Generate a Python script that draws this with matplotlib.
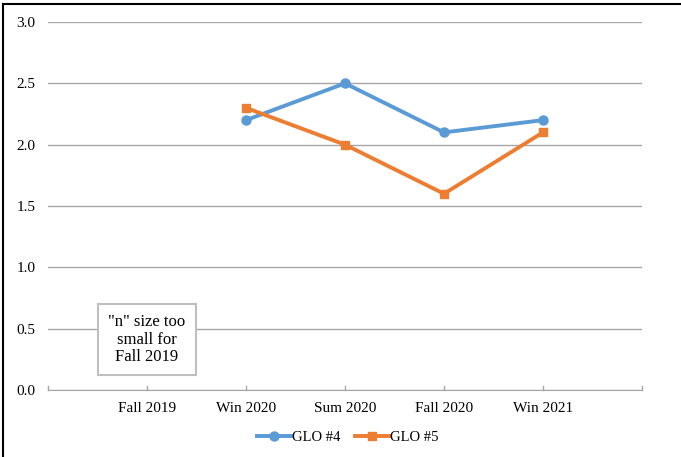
import numpy as np
import matplotlib

matplotlib.use("Agg")
import matplotlib.pyplot as plt
from matplotlib.lines import Line2D

terms = ["Fall 2019", "Win 2020", "Sum 2020", "Fall 2020", "Win 2021"]
glo4 = [np.nan, 2.2, 2.5, 2.1, 2.2]
glo5 = [np.nan, 2.3, 2.0, 1.6, 2.1]

plt.rcParams["font.family"] = ["Liberation Serif", "DejaVu Serif"]
plt.rcParams["font.size"] = 11

fig = plt.figure(figsize=(6.81, 4.57), dpi=100)
ax = fig.add_axes([48 / 681, 1 - 390 / 457, 594 / 681, 368 / 457])

x = np.arange(1, len(terms) + 1)
ax.plot(x, glo4, "-o", color="#5B9BD5", lw=2.8, markersize=6.5, label="GLO #4")
ax.plot(x, glo5, "-s", color="#ED7D31", lw=2.8, markersize=6, label="GLO #5")

ax.set_xlim(0, len(terms) + 1)
ax.set_ylim(0, 3.0)
ax.set_yticks(np.arange(0, 3.01, 0.5))
ax.set_yticklabels(["%.1f" % v for v in np.arange(0, 3.01, 0.5)])
ax.set_xticks(x)
ax.set_xticklabels(terms)

ax.grid(axis="y", color="#A6A6A6", lw=1)
ax.set_axisbelow(True)
for s in ["top", "right", "left"]:
    ax.spines[s].set_visible(False)
ax.spines["bottom"].set_color("#A6A6A6")
ax.tick_params(axis="y", length=0, pad=9)
ax.tick_params(axis="x", length=0, pad=9)
# small inward ticks along the category axis
for xi in np.arange(0, len(terms) + 2):
    ax.plot([xi, xi], [0, 0.03], color="#A6A6A6", lw=1, clip_on=False)

ax.text(1, 0.41, '"n" size too\nsmall for\nFall 2019', ha="center", va="center",
        fontsize=12, linespacing=1.12,
        bbox=dict(boxstyle="square,pad=0.62", fc="white", ec="#BFBFBF", lw=1.5))

fig.legend(loc="center", bbox_to_anchor=(348 / 681, 1 - 437 / 457), ncol=2, frameon=False,
           handlelength=2.3, columnspacing=1.0, handletextpad=0.1, fontsize=10.5)

# partial outer border
fig.add_artist(Line2D([3 / 681, 3 / 681], [0, 1 - 4 / 457], color="black", lw=1.5))
fig.add_artist(Line2D([3 / 681, 1], [1 - 4 / 457, 1 - 4 / 457], color="black", lw=1.5))

fig.savefig("out.png", dpi=100)
